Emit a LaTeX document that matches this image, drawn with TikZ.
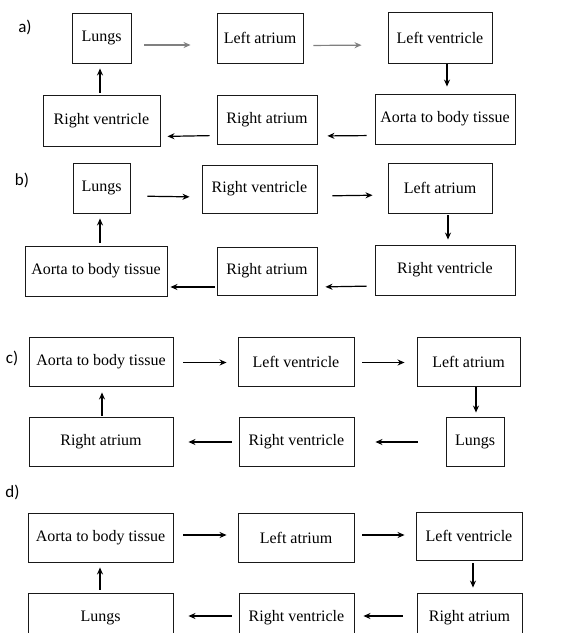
\documentclass[tikz,border=0pt]{standalone}
\usepackage{fontspec}
\setmainfont{Liberation Serif}
\newfontfamily\labelfont{Carlito}
\usetikzlibrary{arrows.meta}

\begin{document}
\begin{tikzpicture}[x=1pt,y=-1pt,
    box/.style={draw=black!90, line width=0.9pt, inner sep=0pt, font=\fontsize{16}{19}\selectfont},
    lbl/.style={font=\labelfont\fontsize{17}{20}\selectfont, inner sep=0pt},
    arr/.style={-{Stealth[length=7pt,width=6pt]}, line width=1.2pt},
    pale/.style={black!50}]
    \useasboundingbox (0,0) rectangle (572,633);
    \clip (0,0) rectangle (572,633);
    % a)
    \node[lbl](la) at (25,27) {a)};
    \node[box, minimum width=59pt, minimum height=50pt](aLu) at (101.5,38) {Lungs};
    \node[box, minimum width=86pt, minimum height=50pt](aLa) at (260,38) {Left atrium};
    \node[box, minimum width=104pt, minimum height=51pt](aLv) at (440,37.5) {Left ventricle};
    \node[box, minimum width=140pt, minimum height=50pt](aAo) at (445,119) {Aorta to body tissue};
    \node[box, minimum width=100pt, minimum height=49pt](aRa) at (267,119.5) {Right atrium};
    \node[box, minimum width=117pt, minimum height=51pt](aRv) at (101.5,120.5) {Right ventricle};
    \draw[arr, pale, shorten <=13pt, shorten >=26pt]([yshift=-7pt]aLu.east) -- ([yshift=-7pt]aLa.west);
    \draw[arr, pale, shorten <=10pt, shorten >=26pt]([yshift=-7.5pt]aLa.east) -- ([yshift=-7.5pt]aLv.west);
    \draw[arr, shorten <=1pt, shorten >=7pt]([xshift=7pt]aLv.south) -- ([xshift=2pt]aAo.north);
    \draw[arr, shorten <=8pt, shorten >=10pt]([yshift=-16.5pt]aAo.west) -- ([yshift=-16.5pt]aRa.east);
    \draw[arr, shorten <=7pt, shorten >=7pt]([yshift=-16pt]aRa.west) -- ([yshift=-16pt]aRv.east);
    \draw[arr, shorten <=2pt, shorten >=5pt]([xshift=-1.5pt]aRv.north) -- ([xshift=-1.5pt]aLu.south);
    % b)
    \node[lbl](lb) at (22,180) {b)};
    \node[box, minimum width=57pt, minimum height=50pt](bLu) at (101.5,188) {Lungs};
    \node[box, minimum width=115pt, minimum height=48pt](bRv) at (259.5,189) {Right ventricle};
    \node[box, minimum width=104pt, minimum height=50pt](bLa) at (440,188) {Left atrium};
    \node[box, minimum width=140pt, minimum height=50pt](bRw) at (445,270) {Right ventricle};
    \node[box, minimum width=100pt, minimum height=48pt](bRa) at (267,271) {Right atrium};
    \node[box, minimum width=142pt, minimum height=50pt](bAo) at (96,271) {Aorta to body tissue};
    \draw[arr, shorten <=17pt, shorten >=12pt]([yshift=-8pt]bLu.east) -- ([yshift=-8pt]bRv.west);
    \draw[arr, shorten <=15pt, shorten >=15pt]([yshift=-7pt]bRv.east) -- ([yshift=-7pt]bLa.west);
    \draw[arr, shorten <=2pt, shorten >=5pt]([xshift=8pt]bLa.south) -- ([xshift=3pt]bRw.north);
    \draw[arr, shorten <=8pt, shorten >=8pt]([yshift=-16pt]bRw.west) -- ([yshift=-16pt]bRa.east);
    \draw[arr, shorten <=2pt, shorten >=3pt]([yshift=-16pt]bRa.west) -- ([yshift=-16pt]bAo.east);
    \draw[arr, shorten <=3pt, shorten >=5pt]([xshift=4pt]bAo.north) -- ([xshift=-1.5pt]bLu.south);
    % c)
    \node[lbl](lc) at (12,358) {c)};
    \node[box, minimum width=144pt, minimum height=49pt](cAo) at (101,361.5) {Aorta to body tissue};
    \node[box, minimum width=116pt, minimum height=49pt](cLv) at (296,361.5) {Left ventricle};
    \node[box, minimum width=103pt, minimum height=49pt](cLa) at (468.5,361.5) {Left atrium};
    \node[box, minimum width=58pt, minimum height=49pt](cLu) at (475,441.5) {Lungs};
    \node[box, minimum width=115pt, minimum height=49pt](cRv) at (296.5,441.5) {Right ventricle};
    \node[box, minimum width=144pt, minimum height=49pt](cRa) at (101,441.5) {Right atrium};
    \draw[arr, shorten <=10pt, shorten >=11pt]([yshift=-1pt]cAo.east) -- ([yshift=-1pt]cLv.west);
    \draw[arr, shorten <=8pt, shorten >=12pt]([yshift=-1pt]cLv.east) -- ([yshift=-1pt]cLa.west);
    \draw[arr, shorten <=1pt, shorten >=4pt]([xshift=7.5pt]cLa.south) -- ([xshift=1pt]cLu.north);
    \draw[arr, shorten <=28pt, shorten >=21pt]([yshift=-0.5pt]cLu.west) -- ([yshift=-0.5pt]cRv.east);
    \draw[arr, shorten <=7pt, shorten >=15pt]([yshift=-0.5pt]cRv.west) -- ([yshift=-0.5pt]cRa.east);
    \draw[arr, shorten <=1pt, shorten >=6pt]([xshift=1pt]cRa.north) -- ([xshift=1pt]cAo.south);
    % d)
    \node[lbl](ld) at (12.5,492) {d)};
    \node[box, minimum width=145pt, minimum height=49pt](dAo) at (100.5,537.5) {Aorta to body tissue};
    \node[box, minimum width=116pt, minimum height=49pt](dLa) at (296,537.5) {Left atrium};
    \node[box, minimum width=106pt, minimum height=48pt](dLv) at (469,536) {Left ventricle};
    \node[box, minimum width=105pt, minimum height=49pt](dRa) at (469.5,617.5) {Right atrium};
    \node[box, minimum width=115pt, minimum height=49pt](dRv) at (296.5,617.5) {Right ventricle};
    \node[box, minimum width=145pt, minimum height=49pt](dLu) at (100.5,617.5) {Lungs};
    \draw[arr, shorten <=10pt, shorten >=11pt]([yshift=2.5pt]dAo.east) -- ([yshift=2.5pt]dLa.west);
    \draw[arr, shorten <=8pt, shorten >=11pt]([yshift=2.5pt]dLa.east) -- ([yshift=1pt]dLv.west);
    \draw[arr, shorten <=3pt, shorten >=5pt]([xshift=4pt]dLv.south) -- ([xshift=3.5pt]dRa.north);
    \draw[arr, shorten <=14pt, shorten >=9pt]([yshift=1.5pt]dRa.west) -- ([yshift=1.5pt]dRv.east);
    \draw[arr, shorten <=7pt, shorten >=15pt]([yshift=1.5pt]dRv.west) -- ([yshift=1.5pt]dLu.east);
    \draw[arr, shorten <=3pt, shorten >=5pt]([xshift=-0.5pt]dLu.north) -- ([xshift=-0.5pt]dAo.south);
\end{tikzpicture}
\end{document}
